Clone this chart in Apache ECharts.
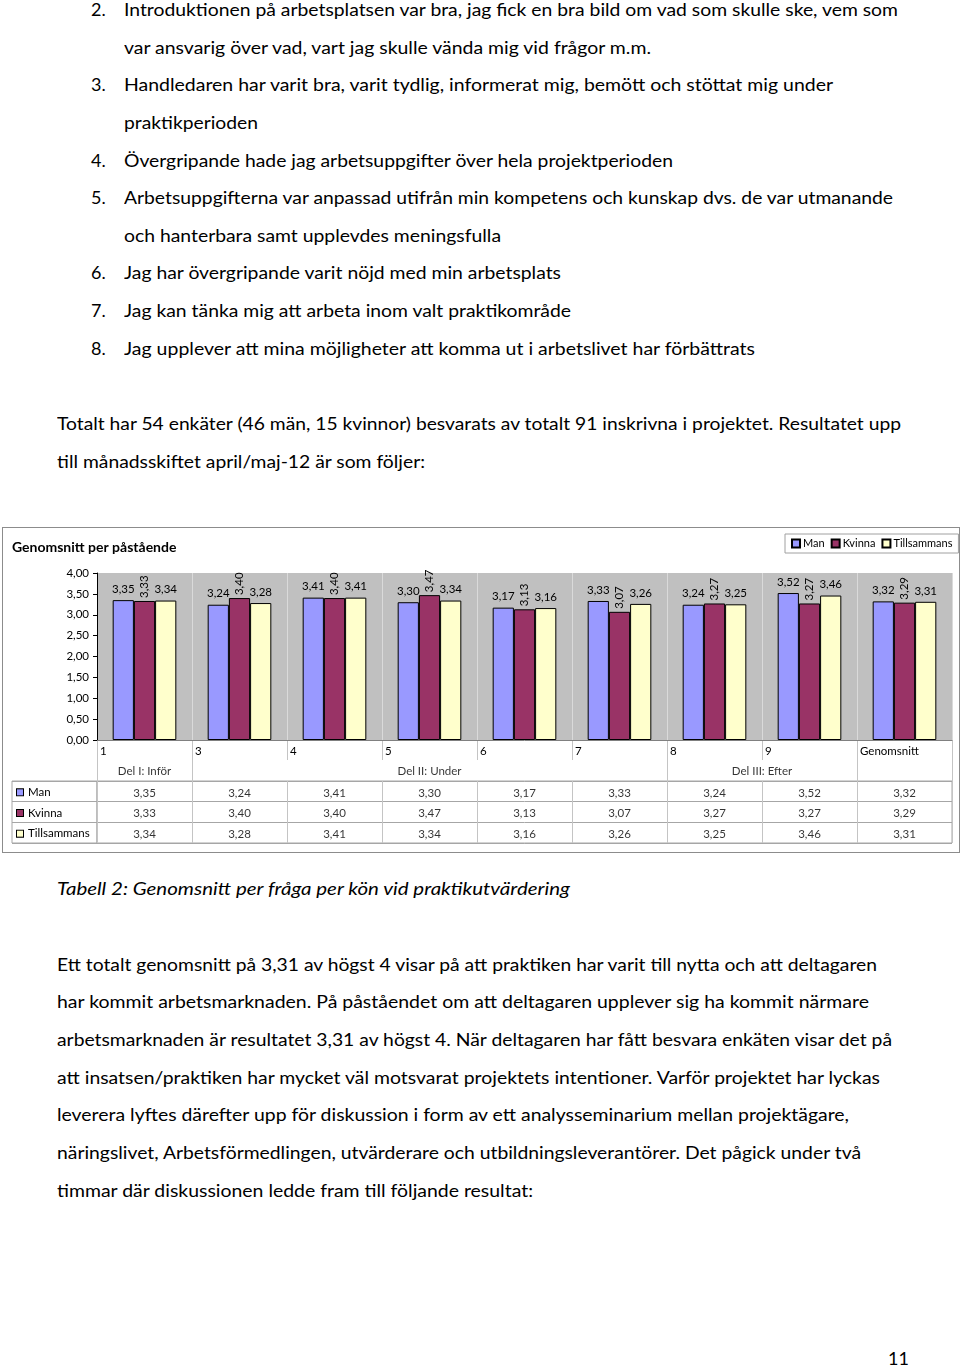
<!DOCTYPE html>
<html>
<head>
<meta charset="utf-8">
<script src="https://cdn.jsdelivr.net/npm/echarts@6/dist/echarts.min.js"></script>
<style>
  html, body { margin:0; padding:0; background:#fff; }
  body { width:960px; height:1366px; position:relative; overflow:hidden; font-family: Lato, "Open Sans", sans-serif; color:#000; }
  .ln { position:absolute; white-space:nowrap; font-size:18px; line-height:22px; display:inline-block; transform-origin:0 50%; }
  .it { font-style:italic; }
  #chart { position:absolute; left:2px; top:527px; width:958px; height:326px; border:1px solid #8c8c8c; box-sizing:border-box; }
</style>
</head>
<body>
<div class="ln" style="left:91px;top:-2px">2.</div>
<div class="ln" data-w="774" style="left:124px;top:-2px">Introduktionen på arbetsplatsen var bra, jag fick en bra bild om vad som skulle ske, vem som</div>
<div class="ln" data-w="527" style="left:124px;top:36px">var ansvarig över vad, vart jag skulle vända mig vid frågor m.m.</div>
<div class="ln" style="left:91px;top:73px">3.</div>
<div class="ln" data-w="709" style="left:124px;top:73px">Handledaren har varit bra, varit tydlig, informerat mig, bemött och stöttat mig under</div>
<div class="ln" data-w="134" style="left:124px;top:111px">praktikperioden</div>
<div class="ln" style="left:91px;top:149px">4.</div>
<div class="ln" data-w="549" style="left:124px;top:149px">Övergripande hade jag arbetsuppgifter över hela projektperioden</div>
<div class="ln" style="left:91px;top:186px">5.</div>
<div class="ln" data-w="769" style="left:124px;top:186px">Arbetsuppgifterna var anpassad utifrån min kompetens och kunskap dvs. de var utmanande</div>
<div class="ln" data-w="377" style="left:124px;top:224px">och hanterbara samt upplevdes meningsfulla</div>
<div class="ln" style="left:91px;top:261px">6.</div>
<div class="ln" data-w="437" style="left:124px;top:261px">Jag har övergripande varit nöjd med min arbetsplats</div>
<div class="ln" style="left:91px;top:299px">7.</div>
<div class="ln" data-w="447" style="left:124px;top:299px">Jag kan tänka mig att arbeta inom valt praktikområde</div>
<div class="ln" style="left:91px;top:337px">8.</div>
<div class="ln" data-w="631" style="left:124px;top:337px">Jag upplever att mina möjligheter att komma ut i arbetslivet har förbättrats</div>

<div class="ln" data-w="844" style="left:57px;top:412px">Totalt har 54 enkäter (46 män, 15 kvinnor) besvarats av totalt 91 inskrivna i projektet. Resultatet upp</div>
<div class="ln" data-w="368" style="left:57px;top:450px">till månadsskiftet april/maj-12 är som följer:</div>

<div id="chart"></div>

<div class="ln it" data-w="513" style="left:57px;top:877px">Tabell 2: Genomsnitt per fråga per kön vid praktikutvärdering</div>

<div class="ln" data-w="820" style="left:57px;top:953px">Ett totalt genomsnitt på 3,31 av högst 4 visar på att praktiken har varit till nytta och att deltagaren</div>
<div class="ln" data-w="812" style="left:57px;top:990px">har kommit arbetsmarknaden. På påståendet om att deltagaren upplever sig ha kommit närmare</div>
<div class="ln" data-w="835" style="left:57px;top:1028px">arbetsmarknaden är resultatet 3,31 av högst 4. När deltagaren har fått besvara enkäten visar det på</div>
<div class="ln" data-w="823" style="left:57px;top:1066px">att insatsen/praktiken har mycket väl motsvarat projektets intentioner. Varför projektet har lyckas</div>
<div class="ln" data-w="792" style="left:57px;top:1103px">leverera lyftes därefter upp för diskussion i form av ett analysseminarium mellan projektägare,</div>
<div class="ln" data-w="804" style="left:57px;top:1141px">näringslivet, Arbetsförmedlingen, utvärderare och utbildningsleverantörer. Det pågick under två</div>
<div class="ln" data-w="476" style="left:57px;top:1179px">timmar där diskussionen ledde fram till följande resultat:</div>

<div class="ln" style="left:888px;top:1347px">11</div>

<script>
// ---- data ----
const categories = ['1', '3', '4', '5', '6', '7', '8', '9', 'Genomsnitt'];
const seriesNames = ['Man', 'Kvinna', 'Tillsammans'];
const manValues = [3.35, 3.24, 3.41, 3.30, 3.17, 3.33, 3.24, 3.52, 3.32];
const kvinnaValues = [3.33, 3.40, 3.40, 3.47, 3.13, 3.07, 3.27, 3.27, 3.29];
const tillsammansValues = [3.34, 3.28, 3.41, 3.34, 3.16, 3.26, 3.25, 3.46, 3.31];
const groupNames = ['Del I: Inför', 'Del II: Under', 'Del III: Efter'];
const groupStart = [0, 1, 6];
const groupEnd = [1, 6, 8];
const yMin = 0, yMax = 4, yStep = 0.5;

// ---- fit text lines to measured widths ----
document.querySelectorAll('.ln[data-w]').forEach(el => {
  const w = el.getBoundingClientRect().width;
  const t = parseFloat(el.dataset.w);
  if (w > 0) el.style.transform = 'scaleX(' + (t / w) + ')';
});

const font = 'Lato, "Open Sans", sans-serif';
const colors = ['#9999ff', '#993366', '#ffffcc'];
const fmt = v => Number(v).toFixed(2).replace('.', ',');
const allValues = [manValues, kvinnaValues, tillsammansValues];
const lineGray = '#c4c4c4';

const chart = echarts.init(document.getElementById('chart'));

const barSeries = seriesNames.map((name, i) => ({
  type: 'bar', name: name, xAxisIndex: 0, yAxisIndex: 0,
  data: allValues[i],
  barGap: '0%', barCategoryGap: '33%',
  itemStyle: { color: colors[i], borderColor: '#000', borderWidth: 1 },
  label: i === 1 ? {
    show: true, position: 'top', rotate: 90, align: 'left', verticalAlign: 'middle', distance: 3,
    fontSize: 11.5, color: '#000', fontFamily: font, formatter: p => fmt(p.value)
  } : {
    show: true, position: 'top', distance: 5,
    fontSize: 11.5, color: '#000', fontFamily: font, formatter: p => fmt(p.value)
  }
}));

const tableData = [];
allValues.forEach((arr, ri) => arr.forEach((v, ci) => tableData.push([ci, ri, v])));

const boundaries = [0].concat(groupEnd).concat([categories.length]);

const rich = { t: { fontSize: 11.5, color: '#000', fontFamily: font, padding: [0, 0, 0, 5] } };
seriesNames.forEach((n, i) => {
  rich['s' + i] = { width: 6, height: 6, backgroundColor: colors[i], borderColor: '#000', borderWidth: 1 };
});

const option = {
  animation: false,
  textStyle: { fontFamily: font },
  title: {
    text: 'Genomsnitt per påstående', left: 4, top: 7,
    textStyle: { fontSize: 14, fontWeight: 'bold', color: '#000', fontFamily: font }
  },
  legend: {
    data: seriesNames, left: 782, top: 6, itemWidth: 8, itemHeight: 8, itemGap: 6,
    icon: 'rect', borderColor: '#a0a0a0', borderWidth: 1, padding: [4, 6, 4, 6],
    selectedMode: false,
    textStyle: { fontSize: 11, color: '#000', fontFamily: font, padding: [0, 0, 0, -2] }
  },
  grid: [
    { left: 94, top: 45, width: 855, height: 167, show: true, backgroundColor: '#c0c0c0', borderWidth: 0 },
    { left: 94, top: 212, width: 855, height: 20 },
    { left: 94, top: 232, width: 855, height: 21 },
    { left: 94, top: 253, width: 855, height: 62, show: true, borderColor: '#a6a6a6', borderWidth: 1 },
    { left: 9, top: 253, width: 85, height: 62, show: true, borderColor: '#a6a6a6', borderWidth: 1 }
  ],
  xAxis: [
    { gridIndex: 0, type: 'category', data: categories, axisLabel: { show: false }, axisTick: { show: false },
      axisLine: { lineStyle: { color: '#808080' } }, splitLine: { show: true, lineStyle: { color: '#dadada' } } },
    { gridIndex: 1, type: 'value', min: 0, max: categories.length, interval: 1, position: 'top',
      axisLine: { show: false }, axisTick: { show: false },
      splitLine: { show: true, lineStyle: { color: lineGray } },
      axisLabel: { inside: true, margin: 5, align: 'left', verticalAlign: 'top', fontSize: 11.5, color: '#000',
        fontFamily: font, padding: [0, 0, 0, 3], formatter: v => (categories[v] !== undefined ? categories[v] : '') } },
    { gridIndex: 2, type: 'value', min: 0, max: categories.length, show: false },
    { gridIndex: 3, type: 'category', data: categories, axisLabel: { show: false }, axisTick: { show: false },
      axisLine: { show: false }, splitLine: { show: true, lineStyle: { color: lineGray } } },
    { gridIndex: 4, type: 'category', data: [''], show: false }
  ],
  yAxis: [
    { gridIndex: 0, type: 'value', min: yMin, max: yMax, interval: yStep,
      axisLine: { show: true, lineStyle: { color: '#000' } },
      axisTick: { show: true, length: 4, lineStyle: { color: '#000' } },
      splitLine: { show: false },
      axisLabel: { fontSize: 11.5, color: '#000', margin: 8, fontFamily: font, formatter: fmt } },
    { gridIndex: 1, type: 'value', show: false },
    { gridIndex: 2, type: 'value', min: -1, max: 1, show: false },
    { gridIndex: 3, type: 'category', data: seriesNames, inverse: true, axisLabel: { show: false },
      axisTick: { show: false }, axisLine: { show: false }, splitLine: { show: true, lineStyle: { color: '#a6a6a6' } } },
    { gridIndex: 4, type: 'category', data: seriesNames, inverse: true, axisTick: { show: false }, axisLine: { show: false },
      splitLine: { show: true, lineStyle: { color: '#a6a6a6' } },
      axisLabel: { inside: true, margin: 5, align: 'left', padding: [2, 0, 0, 0], formatter: (v, i) => '{s' + i + '|}{t|' + v + '}', rich: rich } }
  ],
  series: barSeries.concat([
    {
      type: 'scatter', xAxisIndex: 3, yAxisIndex: 3, symbolSize: 0, silent: true,
      data: tableData,
      label: { show: true, position: 'inside', offset: [0, 1.5], fontSize: 11.5, color: '#000', fontFamily: font, formatter: p => fmt(p.value[2]) }
    },
    {
      type: 'scatter', xAxisIndex: 2, yAxisIndex: 2, symbolSize: 0, silent: true,
      data: groupNames.map((n, i) => ({ name: n, value: [(groupStart[i] + groupEnd[i]) / 2, 0] })),
      label: { show: true, position: 'inside', offset: [0, 1], fontSize: 11.5, color: '#000', fontFamily: font, formatter: '{b}' },
      markLine: {
        silent: true, symbol: ['none', 'none'], label: { show: false },
        lineStyle: { color: lineGray, type: 'solid', width: 1 },
        data: boundaries.map(x => ({ xAxis: x }))
      }
    }
  ])
};
chart.setOption(option);
</script>
</body>
</html>
